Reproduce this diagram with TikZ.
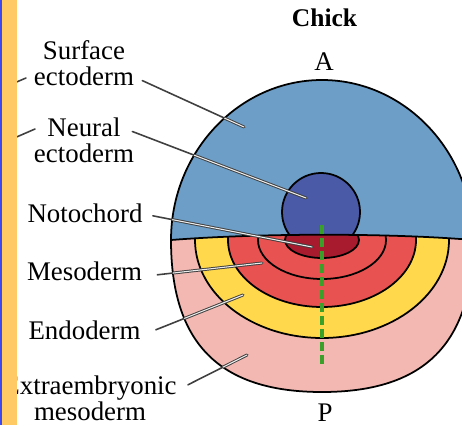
\documentclass[tikz,border=0pt]{standalone}
\usepackage{fontspec}
\setmainfont{Liberation Serif}
\definecolor{ectoSurface}{RGB}{108,158,199}
\definecolor{ectoNeural}{RGB}{74,90,166}
\definecolor{notoRouge}{RGB}{168,26,46}
\definecolor{mesoRouge}{RGB}{232,82,80}
\definecolor{endoJaune}{RGB}{255,216,76}
\definecolor{extraRose}{RGB}{243,184,178}
\definecolor{axeVert}{RGB}{58,160,42}
\definecolor{bandeOr}{RGB}{255,201,100}
\definecolor{bandeBleu}{RGB}{60,72,240}
% contours de l'embryon
\newcommand{\partieHaute}{(171,240) .. controls (171,152) and (239,80) .. (322,80) .. controls (405,80) and (473,152) .. (473,240) .. controls (390,233) and (260,233) .. (171,240) -- cycle}
\newcommand{\partieBasse}{(171,240) .. controls (260,233) and (390,233) .. (473,240) .. controls (473,343) and (425,392) .. (322,392) .. controls (219,392) and (171,343) .. (171,240) -- cycle}
\newcommand{\contourEmbryon}{(171,240) .. controls (171,152) and (239,80) .. (322,80) .. controls (405,80) and (473,152) .. (473,240) .. controls (473,343) and (425,392) .. (322,392) .. controls (219,392) and (171,343) .. (171,240) -- cycle}
\begin{document}
\begin{tikzpicture}[x=0.02cm, y=-0.02cm,
    etiq/.style={font=\fontsize{15.3}{14.8}\selectfont, align=center, inner sep=0pt, anchor=base},
    trait/.style={black!75, line width=0.9pt, line cap=round},
    bord/.style={draw=black, line width=1pt}]
  \useasboundingbox (0,0) rectangle (462,425);
  \clip (0,0) rectangle (462,425);

  % ectoderme de surface
  \fill[ectoSurface] \partieHaute;
  % ectoderme neural
  \filldraw[fill=ectoNeural, bord] (321,212) circle [radius=39];
  % feuillets du bas
  \begin{scope}
    \clip \partieBasse;
    \fill[extraRose] \partieBasse;
    \filldraw[fill=endoJaune, bord] (322,240) ellipse [x radius=127, y radius=98];
    \filldraw[fill=mesoRouge, bord] (322,240) ellipse [x radius=94, y radius=67];
    \draw[bord] (322,240) ellipse [x radius=64, y radius=39];
    \filldraw[fill=notoRouge, bord] (322,240) ellipse [x radius=37, y radius=18];
  \end{scope}
  % limite et contour
  \draw[bord] (171,240) .. controls (260,233) and (390,233) .. (473,240);
  \draw[bord] \contourEmbryon;
  % axe A-P
  \coordinate (axeHaut) at (322,225);
  \coordinate (axeBas) at (322,367);
  \draw[axeVert, line width=2.3pt, dash pattern=on 5.1pt off 2.3pt] (axeHaut) -- (axeBas);

  % titres
  \node[font=\fontsize{14.5}{16}\selectfont\bfseries, anchor=base] (titre) at (324.5,27) {Chick};
  \node[etiq] (ant) at (324,71) {A};
  \node[etiq] (post) at (325,421) {P};

  % etiquettes
  \node[etiq] (surf) at (84,86) {Surface\\ectoderm};
  \node[etiq] (neur) at (84,163) {Neural\\ectoderm};
  \node[etiq] (noto) at (85,222) {Notochord};
  \node[etiq] (meso) at (84.5,280) {Mesoderm};
  \node[etiq] (endo) at (84.5,339) {Endoderm};
  \node[etiq] (extra) at (90,420) {Extraembryonic\\mesoderm};

  % traits de rappel
  \coordinate (surf-deb) at ([shift={(8,-6)}]surf.south east);
  \coordinate (neur-deb) at ([shift={(-2,13.5)}]neur.north east);
  \coordinate (noto-deb) at ([shift={(10,3)}]noto.east);
  \coordinate (meso-deb) at ([shift={(15,4)}]meso.east);
  \coordinate (endo-deb) at ([shift={(15,0)}]endo.east);
  \coordinate (extra-deb) at ([shift={(11,-13)}]extra.east);
  \coordinate (surf-fin) at (244,127);
  \coordinate (neur-fin) at (306,198);
  \coordinate (noto-fin) at (312,247);
  \coordinate (meso-fin) at (262,263);
  \coordinate (endo-fin) at (243,295);
  \coordinate (extra-fin) at (247,355);
  \foreach \n in {surf,neur,noto,meso,endo,extra}
    \draw[trait] (\n-deb) -- (\n-fin);
  \begin{scope}
    \clip \contourEmbryon;
    \foreach \n in {surf,neur,noto,meso,endo,extra} {
      \draw[trait, line width=1.7pt] (\n-deb) -- (\n-fin);
      \draw[white!85!gray, line width=0.6pt, line cap=round] (\n-deb) -- (\n-fin);
    }
  \end{scope}

  % traits coupes a gauche
  \coordinate (tiretA) at (12,84);
  \coordinate (tiretA') at (26,78);
  \coordinate (tiretB) at (12,139);
  \coordinate (tiretB') at (35,129);
  \draw[trait] (tiretA) -- (tiretA');
  \draw[trait] (tiretB) -- (tiretB');
  % bande a gauche
  \fill[bandeBleu] (0,0) rectangle (1.7,425);
  \fill[bandeOr] (1.7,0) rectangle (17,425);
\end{tikzpicture}
\end{document}
